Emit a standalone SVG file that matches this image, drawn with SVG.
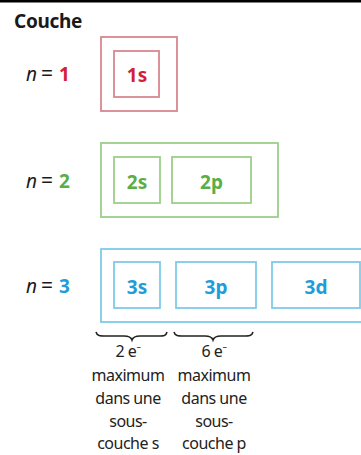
<svg xmlns="http://www.w3.org/2000/svg" width="361" height="455" viewBox="0 0 361 455">
<style>
text{font-family:"Noto Sans","Open Sans",sans-serif;}
.title{font-size:19px;font-weight:bold;fill:#1a1a1a;letter-spacing:-0.3px;}
.n{font-size:19px;fill:#1a1a1a;}
.ni{font-style:italic;}
.eq{font-size:21px;}
.dig{font-weight:bold;}
.lbl{font-size:19px;font-weight:bold;text-anchor:middle;}
.note{font-size:16px;fill:#222;text-anchor:middle;letter-spacing:-0.5px;}
.box{fill:none;stroke-width:1.8;}
.red{stroke:#d8878f;} .redt{fill:#d21f3a;}
.grn{stroke:#9ccf88;} .grnt{fill:#5aae45;}
.blu{stroke:#7ecbe9;} .blut{fill:#1e9dd8;}
.brace{fill:none;stroke:#222;stroke-width:1.6;}
</style>
<rect x="0" y="0" width="361" height="455" fill="#fff"/>
<rect x="0" y="0" width="361" height="2.5" fill="#000"/>
<text class="title" x="14" y="28">Couche</text>

<g id="shell1">
<text class="n" y="81"><tspan class="ni" x="26">n</tspan><tspan class="eq" x="41">=</tspan><tspan class="dig redt" x="59">1</tspan></text>
<rect class="box red" x="101" y="37" width="76" height="74"/>
<g id="sub1s"><rect class="box red" x="114" y="51" width="45" height="46"/><text class="lbl redt" x="137" y="82">1s</text></g>
</g>

<g id="shell2">
<text class="n" y="188"><tspan class="ni" x="26">n</tspan><tspan class="eq" x="41">=</tspan><tspan class="dig grnt" x="59">2</tspan></text>
<rect class="box grn" x="101" y="143" width="177" height="74"/>
<g id="sub2s"><rect class="box grn" x="114" y="157" width="46" height="46"/><text class="lbl grnt" x="137" y="189">2s</text></g>
<g id="sub2p"><rect class="box grn" x="172" y="157" width="79" height="46"/><text class="lbl grnt" x="211.5" y="189">2p</text></g>
</g>

<g id="shell3">
<text class="n" y="293"><tspan class="ni" x="26">n</tspan><tspan class="eq" x="41">=</tspan><tspan class="dig blut" x="59">3</tspan></text>
<rect class="box blu" x="101" y="249" width="264" height="73"/>
<g id="sub3s"><rect class="box blu" x="114" y="262" width="46" height="46"/><text class="lbl blut" x="137" y="294">3s</text></g>
<g id="sub3p"><rect class="box blu" x="176" y="262" width="80" height="46"/><text class="lbl blut" x="216" y="294">3p</text></g>
<g id="sub3d"><rect class="box blu" x="272" y="262" width="88" height="46"/><text class="lbl blut" x="316" y="294">3d</text></g>
</g>

<g id="connectors">
<path class="brace" d="M96,332 C97,336 100,336 106,336 L124,336 C129,336 131,337 132,340 C133,337 135,336 140,336 L158,336 C164,336 166,336 167,332"/>
<path class="brace" d="M174,332 C175,336 178,336 184,336 L205,336 C210,336 212,337 213,340 C214,337 216,336 221,336 L243,336 C249,336 252,336 253,332"/>
</g>

<g id="note-s">
<text class="note" x="128" y="357">2 e<tspan font-size="9" dy="-7">–</tspan></text>
<text class="note" x="128" y="381">maximum</text>
<text class="note" x="128" y="404">dans une</text>
<text class="note" x="128" y="427">sous-</text>
<text class="note" x="128" y="449">couche s</text>
</g>
<g id="note-p">
<text class="note" x="214" y="357">6 e<tspan font-size="9" dy="-7">–</tspan></text>
<text class="note" x="214" y="381">maximum</text>
<text class="note" x="214" y="404">dans une</text>
<text class="note" x="214" y="427">sous-</text>
<text class="note" x="214" y="449">couche p</text>
</g>
</svg>
